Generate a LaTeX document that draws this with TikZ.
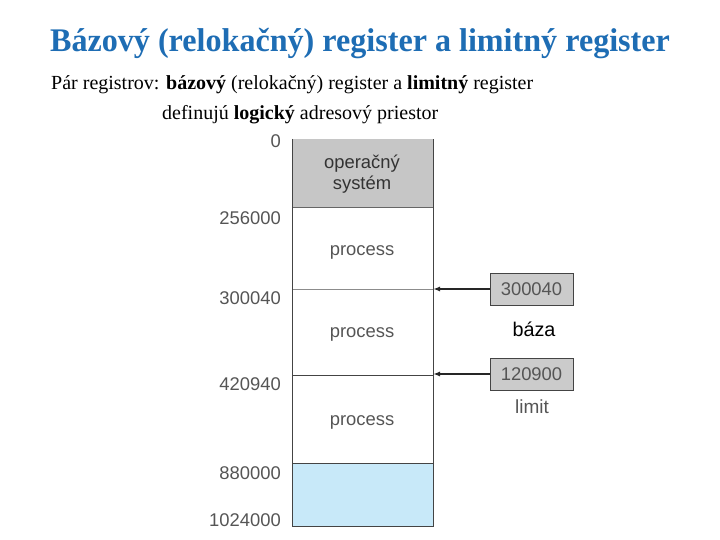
\documentclass[tikz,border=0pt]{standalone}
\usepackage{fontspec}
\setmainfont{Liberation Serif}
\newfontfamily\arialf{Liberation Sans}
\usetikzlibrary{arrows.meta}
\definecolor{titleblue}{HTML}{1E6DB4}
\definecolor{osgray}{HTML}{C6C6C6}
\definecolor{regray}{HTML}{CBCBCB}
\definecolor{freeblue}{HTML}{C8E9F9}
\definecolor{proctext}{HTML}{555555}
\definecolor{edgegray}{HTML}{444444}
\tikzset{
  addr/.style={anchor=east, font=\arialf\fontsize{18.4}{20}\selectfont, text=proctext, inner sep=0pt},
  proc/.style={font=\arialf\fontsize{18.4}{21}\selectfont, text=proctext, inner sep=0pt},
  regbox/.style={draw=edgegray, fill=regray, line width=0.8pt, minimum width=83pt, minimum height=32pt, inner sep=0pt, font=\arialf\fontsize{18.4}{20}\selectfont, text=proctext},
  regarrow/.style={-{Latex[length=7pt,width=5pt]}, line width=2.4pt, draw=black!85},
}
\begin{document}
\begin{tikzpicture}[x=1pt,y=-1pt]
\useasboundingbox (0,0) rectangle (720,540);
% title
\node[anchor=base, text=titleblue, font=\bfseries\fontsize{33}{36}\selectfont, inner sep=0pt, xscale=0.973] (title) at (360,52) {Bázový (relokačný) register a limitný register};
\node[anchor=base west, font=\fontsize{20}{22}\selectfont, inner sep=0pt] (sub1) at (51,90) {Pár registrov: \textbf{bázový} (relokačný) register a \textbf{limitný} register};
\node[anchor=base west, font=\fontsize{20}{22}\selectfont, inner sep=0pt] (sub2) at (162,120) {definujú \textbf{logický} adresový priestor};
% memory
\fill[osgray] (292,139) rectangle (433,207);
\fill[freeblue] (292,463) rectangle (433,526);
\draw[black!60, line width=0.6pt] (292,207) -- (433,207);
\draw[black!45, line width=0.6pt] (292,289) -- (433,289);
\draw[edgegray, line width=0.9pt] (292,375) -- (433,375);
\draw[edgegray, line width=0.9pt] (292,463) -- (433,463);
\draw[edgegray, line width=1pt] (292,139) -- (292,526) -- (433,526) -- (433,139);
% contents
\node[proc, align=center, text=black!80] (os) at (362,174) {operačný\\systém};
\node[proc] (p1) at (362,252) {process};
\node[proc] (p2) at (362,334) {process};
\node[proc] (p3) at (362,422) {process};
% addresses
\node[addr] (a0) at (281,141) {0};
\node[addr] (a1) at (281,218) {256000};
\node[addr] (a2) at (281,298) {300040};
\node[addr] (a3) at (281,384) {420940};
\node[addr] (a4) at (281,473) {880000};
\node[addr] (a5) at (281,520) {1024000};
% registers
\node[regbox] (base) at (531.5,289) {300040};
\node[regbox] (limit) at (531.5,374) {120900};
\coordinate (bt) at (433,289);
\coordinate (lt) at (433,374);
\draw[regarrow] (base.west) -- (bt);
\draw[regarrow] (limit.west) -- (lt);
\node[font=\arialf\fontsize{19.8}{22}\selectfont, inner sep=0pt] (bz) at (534,329) {báza};
\node[font=\arialf\fontsize{19}{21}\selectfont, text=proctext, inner sep=0pt] (lm) at (532,407) {limit};
\end{tikzpicture}
\end{document}
